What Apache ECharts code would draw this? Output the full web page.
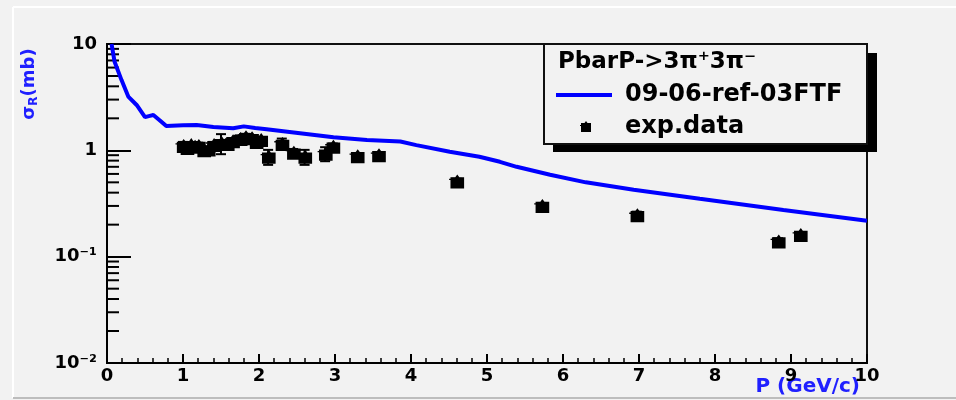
<!DOCTYPE html>
<html><head><meta charset="utf-8">
<script src="https://cdn.jsdelivr.net/npm/echarts@6/dist/echarts.min.js"></script>
<style>html,body{margin:0;padding:0;background:#f2f2f2}#c{width:956px;height:400px}</style>
</head><body><div id="c"></div>
<script>
// ---- data ----
const modelP = [0.06,0.10,0.19,0.28,0.39,0.50,0.55,0.61,0.70,0.78,1.00,1.18,1.40,1.66,1.80,1.95,2.10,2.54,2.98,3.42,3.86,4.07,4.51,4.90,5.17,5.39,5.83,6.30,6.93,7.80,8.90,10.0];
const modelSigma = [10.0,6.8,4.6,3.2,2.67,2.05,2.10,2.15,1.90,1.69,1.72,1.73,1.66,1.61,1.68,1.62,1.58,1.45,1.33,1.25,1.21,1.12,0.97,0.87,0.78,0.70,0.59,0.50,0.425,0.35,0.275,0.218];
const expP = [1.00,1.05,1.10,1.15,1.20,1.27,1.33,1.40,1.50,1.58,1.65,1.75,1.82,1.90,1.96,2.02,2.12,2.30,2.45,2.60,2.87,2.97,3.29,3.57,4.60,5.72,6.97,8.83,9.12];
const expSigma = [1.10,1.05,1.12,1.08,1.10,1.00,1.02,1.12,1.17,1.15,1.22,1.28,1.33,1.30,1.20,1.25,0.87,1.15,0.95,0.87,0.93,1.08,0.88,0.90,0.51,0.30,0.245,0.139,0.160];
const expErr = [0.10,0.06,0.06,0.06,0.08,0.08,0.06,0.08,0.25,0.08,0.08,0.10,0.10,0.08,0.08,0.08,0.14,0.14,0.08,0.14,0.14,0.08,0.05,0.05,0.03,0.02,0.02,0.01,0.01];
const yTickLabels = {'1':'10','0':'1','-1':'10⁻¹','-2':'10⁻²'};
const xTickLabels = ['0','1','2','3','4','5','6','7','8','9','10'];
const seriesNames = ['09-06-ref-03FTF','exp.data'];
const legendTitle = 'PbarP->3π⁺3π⁻';
// minor tick positions of the log axis (2..9 per decade)
const minorDecades = [0.01,0.1,1];
const minorMult = [2,3,4,5,6,7,8,9];

const FONT = 'DejaVu Sans';
const BLUE = '#0000ff';
const markerPath = 'path://M5,0 L6.5,2 L10,2 L10,10 L0,10 L0,4 L-1,4 L-1,3 L0,3 L0,2 L3.5,2 Z';

const minorVals = [];
minorDecades.forEach(d => minorMult.forEach(m => minorVals.push([0, d*m])));

// legend glyph (shape of the marker, relative to its centre)
const glyph = [[0,-6],[1.5,-4],[5,-4],[5,5],[-5,5],[-5,-1],[-6,-1],[-6,-2],[-5,-2],[-5,-4],[-1.5,-4]];
const legendMarkCentre = [586,127];

const chart = echarts.init(document.getElementById('c'), null, {renderer:'canvas'});
chart.setOption({
  backgroundColor:'#f2f2f2',
  animation:false,
  grid:{left:107,right:89,top:44,bottom:37,show:true,borderColor:'#111',borderWidth:2,backgroundColor:'transparent'},
  xAxis:{type:'value',min:0,max:10,interval:1,
    axisLine:{show:true,onZero:false,lineStyle:{color:'#000',width:2}},
    axisTick:{show:true,inside:true,length:9,lineStyle:{color:'#000',width:2}},
    minorTick:{show:true,splitNumber:5,length:5,lineStyle:{color:'#000',width:1.5}},
    splitLine:{show:false},
    axisLabel:{margin:4,fontFamily:FONT,fontWeight:'bold',fontSize:18,color:'#000',
      formatter:v=>xTickLabels[Math.round(v)]}},
  yAxis:{type:'log',logBase:10,min:0.01,max:10,
    axisLine:{show:true,lineStyle:{color:'#000',width:2}},
    axisTick:{show:true,inside:true,length:24,lineStyle:{color:'#000',width:2}},
    minorTick:{show:false},
    splitLine:{show:false},
    axisLabel:{margin:10,fontFamily:FONT,fontWeight:'bold',fontSize:18,color:'#000',
      formatter:v=>yTickLabels[String(Math.round(Math.log10(v)))]||''}},
  series:[
    {type:'custom',name:'minorTicks',silent:true,clip:false,z:3,data:minorVals,
      renderItem:(params,api)=>{const p=api.coord([api.value(0),api.value(1)]);
        return {type:'line',shape:{x1:p[0],y1:p[1],x2:p[0]+12,y2:p[1]},style:{stroke:'#000',lineWidth:2}};}},
    {type:'line',name:seriesNames[0],data:modelP.map((p,i)=>[p,modelSigma[i]]),
      showSymbol:false,lineStyle:{color:BLUE,width:4},itemStyle:{color:BLUE},z:4},
    {type:'custom',name:'errors',silent:true,z:5,
      data:expP.map((p,i)=>[p,expSigma[i]-expErr[i],expSigma[i]+expErr[i]]),
      renderItem:(params,api)=>{const lo=api.coord([api.value(0),api.value(1)]);const hi=api.coord([api.value(0),api.value(2)]);
        const c=5;
        return {type:'group',children:[
          {type:'line',shape:{x1:lo[0],y1:lo[1],x2:hi[0],y2:hi[1]},style:{stroke:'#000',lineWidth:2}},
          {type:'line',shape:{x1:lo[0]-c,y1:lo[1],x2:lo[0]+c,y2:lo[1]},style:{stroke:'#000',lineWidth:2}},
          {type:'line',shape:{x1:hi[0]-c,y1:hi[1],x2:hi[0]+c,y2:hi[1]},style:{stroke:'#000',lineWidth:2}}]};}},
    {type:'scatter',name:seriesNames[1],data:expP.map((p,i)=>[p,expSigma[i]]),
      symbol:markerPath,symbolSize:[15,14],itemStyle:{color:'#000',opacity:1},z:6}
  ],
  graphic:[
    {type:'line',shape:{x1:13,y1:7,x2:956,y2:7},style:{stroke:'#ffffff',lineWidth:2},silent:true},
    {type:'line',shape:{x1:13,y1:7,x2:13,y2:398},style:{stroke:'#ffffff',lineWidth:2},silent:true},
    {type:'line',shape:{x1:13,y1:398,x2:956,y2:398},style:{stroke:'#bdbdbd',lineWidth:2},silent:true},
    {type:'text',x:29,y:84,rotation:Math.PI/2,silent:true,
      style:{text:'{a|σ}{b|R}{a|(mb)}',align:'center',verticalAlign:'middle',
        rich:{a:{fontFamily:FONT,fontWeight:'bold',fontSize:18,fill:'#2020ff'},
              b:{fontFamily:FONT,fontWeight:'bold',fontSize:12,fill:'#2020ff',padding:[9,0,0,0]}}}},
    {type:'text',x:860,y:387,silent:true,
      style:{text:'P (GeV/c)',align:'right',verticalAlign:'middle',fontFamily:FONT,fontWeight:'bold',fontSize:20,fill:'#2020ff'}},
    {type:'rect',shape:{x:553,y:53,width:324,height:99},style:{fill:'#000'},silent:true,z:10},
    {type:'rect',shape:{x:544,y:44,width:323,height:100},style:{fill:'#f2f2f2',stroke:'#111',lineWidth:2},silent:true,z:11},
    {type:'text',x:558,y:62,z:12,silent:true,
      style:{text:legendTitle,verticalAlign:'middle',fontFamily:FONT,fontWeight:'bold',fontSize:23,fill:'#000'}},
    {type:'line',z:12,silent:true,shape:{x1:556,y1:95,x2:612,y2:95},style:{stroke:BLUE,lineWidth:4}},
    {type:'text',x:625,y:95,z:12,silent:true,
      style:{text:seriesNames[0],verticalAlign:'middle',fontFamily:FONT,fontWeight:'bold',fontSize:24,fill:'#000'}},
    {type:'polygon',z:12,silent:true,x:legendMarkCentre[0],y:legendMarkCentre[1],shape:{points:glyph},style:{fill:'#000'}},
    {type:'text',x:625,y:127,z:12,silent:true,
      style:{text:seriesNames[1],verticalAlign:'middle',fontFamily:FONT,fontWeight:'bold',fontSize:24,fill:'#000'}}
  ]
});
</script></body></html>
